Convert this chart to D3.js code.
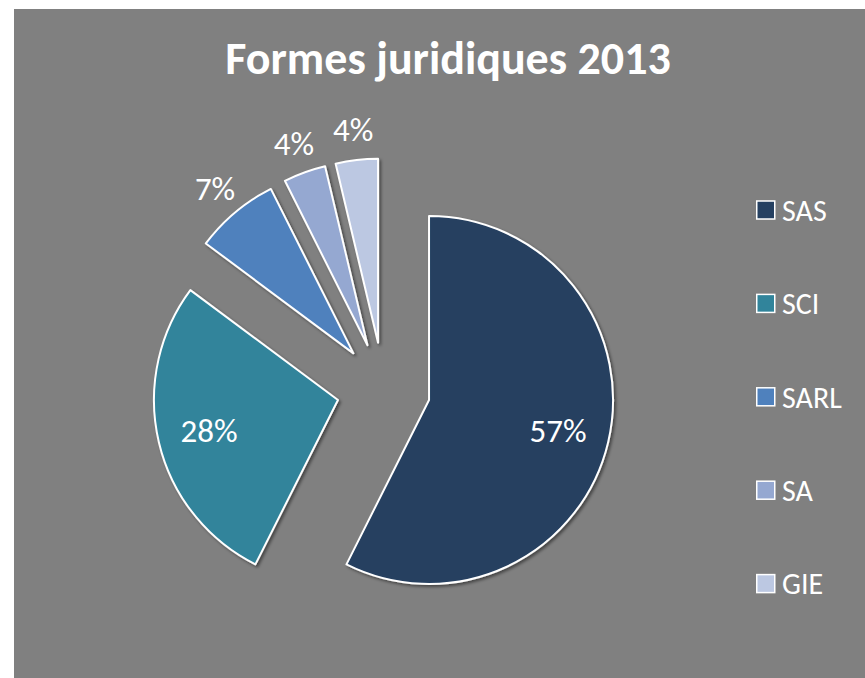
<!DOCTYPE html>
<html>
<head>
<meta charset="utf-8">
<script src="https://cdn.jsdelivr.net/npm/d3@7"></script>
<style>
  body { margin: 0; background: #ffffff; }
  svg text { font-family: Carlito, Calibri, Lato, sans-serif; fill: #ffffff; }
</style>
</head>
<body>
<svg id="chart" width="865" height="678"></svg>
<script>
var categories = ["SAS", "SCI", "SARL", "SA", "GIE"];
var counts = [31, 15, 4, 2, 2];
var colors = ["#254061", "#31849b", "#4f81bd", "#95a8d1", "#bcc8e2"];
var title = "Formes juridiques 2013";

var width = 865,
	height = 678,
	cx = 383.5,
	cy = 389.2,
	radius = 184,
	explode = 46.8;

var svg = d3.select("#chart");

// shadow under the slices
var defs = svg.append("defs");
var filter = defs.append("filter")
	.attr("id", "shadow")
	.attr("x", "-20%").attr("y", "-20%")
	.attr("width", "140%").attr("height", "140%");
filter.append("feDropShadow")
	.attr("dx", 2).attr("dy", 2)
	.attr("stdDeviation", 1.5)
	.attr("flood-color", "#000000")
	.attr("flood-opacity", 0.45);

svg.append("rect")
	.attr("x", 14)
	.attr("y", 9)
	.attr("width", width - 14)
	.attr("height", height - 9)
	.attr("fill", "#808080");

svg.append("text")
	.attr("x", 448)
	.attr("y", 74)
	.attr("text-anchor", "middle")
	.style("font-size", "46px")
	.style("font-weight", "bold")
	.text(title);

var total = d3.sum(counts);
var data = categories.map(function(c, i) { return {name: c, value: counts[i], color: colors[i]}; });

var pie = d3.pie()
	.sort(null)
	.value(function(d) { return d.value; });

var arc = d3.arc()
	.innerRadius(0)
	.outerRadius(radius);

var arcs = pie(data);

function offset(d, r) {
	var a = (d.startAngle + d.endAngle) / 2;
	return [Math.sin(a) * r, -Math.cos(a) * r];
}

var pieg = svg.append("g")
	.attr("transform", "translate(" + cx + "," + cy + ")");

var slices = pieg.selectAll(".slice")
	.data(arcs)
	.enter()
	.append("g")
	.attr("class", "slice")
	.attr("transform", function(d) {
		var o = offset(d, explode);
		return "translate(" + o[0] + "," + o[1] + ")";
	});

slices.append("path")
	.attr("d", arc)
	.attr("fill", function(d) { return d.data.color; })
	.attr("stroke", "#ffffff")
	.attr("stroke-width", 2)
	.attr("stroke-linejoin", "round")
	.attr("filter", "url(#shadow)");

// labels: big slices inside, small ones outside
slices.append("text")
	.attr("transform", function(d) {
		var share = d.data.value / total;
		var o = share > 0.2 ? offset(d, radius * 0.72) : offset(d, radius * 1.17);
		return "translate(" + o[0] + "," + o[1] + ")";
	})
	.attr("text-anchor", "middle")
	.attr("dy", "0.36em")
	.style("font-size", "33px")
	.text(function(d) { return d3.format(".0%")(d.data.value / total); });

// legend
var legend = svg.append("g")
	.attr("transform", "translate(756, 210)");

var items = legend.selectAll(".item")
	.data(data)
	.enter()
	.append("g")
	.attr("class", "item")
	.attr("transform", function(d, i) { return "translate(0," + (i * 93.4) + ")"; });

items.append("rect")
	.attr("x", 0.75)
	.attr("y", -9)
	.attr("width", 18)
	.attr("height", 18)
	.attr("fill", function(d) { return d.color; })
	.attr("stroke", "#ffffff")
	.attr("stroke-width", 1.5);

items.append("text")
	.attr("x", 26)
	.attr("dy", "0.36em")
	.style("font-size", "30px")
	.text(function(d) { return d.name; });
</script>
</body>
</html>
